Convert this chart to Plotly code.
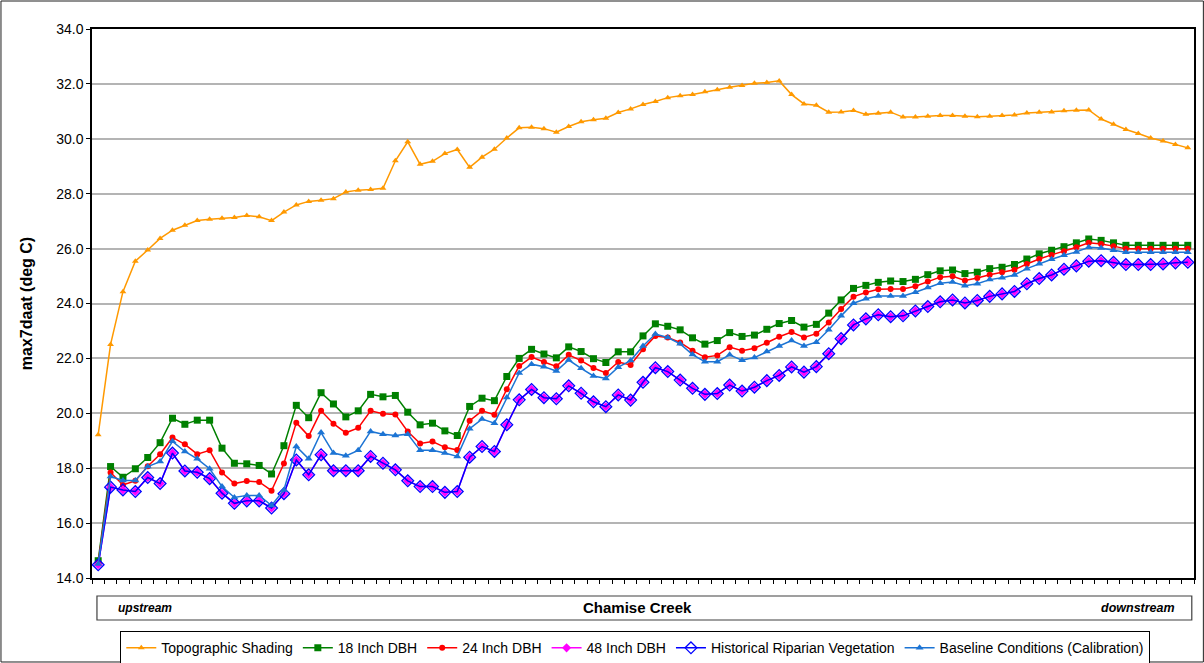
import plotly.graph_objects as go

# stations along Chamise Creek, upstream -> downstream
station = list(range(1, 90))

topo = [19.22, 22.51, 24.43, 25.54, 25.95, 26.37, 26.67, 26.85, 27.02, 27.07,
        27.11, 27.13, 27.21, 27.16, 27.02, 27.33, 27.59, 27.72, 27.76, 27.82,
        28.06, 28.13, 28.15, 28.20, 29.20, 29.89, 29.07, 29.18, 29.46, 29.61,
        28.96, 29.33, 29.62, 30.03, 30.40, 30.42, 30.37, 30.24, 30.45, 30.62,
        30.69, 30.75, 30.96, 31.09, 31.25, 31.36, 31.50, 31.57, 31.61, 31.71,
        31.79, 31.88, 31.94, 32.02, 32.05, 32.11, 31.61, 31.27, 31.22, 30.97,
        30.98, 31.03, 30.89, 30.93, 30.97, 30.79, 30.79, 30.82, 30.85, 30.85,
        30.82, 30.80, 30.82, 30.85, 30.87, 30.94, 30.97, 30.98, 31.02, 31.04,
        31.05, 30.72, 30.53, 30.34, 30.19, 30.03, 29.92, 29.79, 29.67]

dbh18 = [14.63, 18.06, 17.67, 17.98, 18.39, 18.93, 19.82, 19.60, 19.75, 19.75,
         18.73, 18.18, 18.16, 18.10, 17.79, 18.82, 20.29, 19.84, 20.75, 20.34,
         19.87, 20.09, 20.69, 20.60, 20.65, 20.04, 19.58, 19.64, 19.36, 19.19,
         20.25, 20.55, 20.46, 21.34, 22.00, 22.33, 22.16, 22.02, 22.42, 22.25,
         21.99, 21.85, 22.24, 22.24, 22.82, 23.26, 23.17, 23.04, 22.75, 22.52,
         22.65, 22.94, 22.80, 22.85, 23.06, 23.27, 23.38, 23.14, 23.24, 23.65,
         24.13, 24.55, 24.66, 24.77, 24.82, 24.80, 24.88, 25.05, 25.19, 25.22,
         25.09, 25.14, 25.27, 25.32, 25.42, 25.62, 25.81, 25.94, 26.07, 26.21,
         26.35, 26.30, 26.21, 26.12, 26.12, 26.12, 26.12, 26.12, 26.12]

dbh24 = [14.55, 17.84, 17.39, 17.54, 18.07, 18.51, 19.12, 18.87, 18.51, 18.65,
         17.84, 17.44, 17.53, 17.50, 17.18, 18.17, 19.66, 19.17, 20.09, 19.62,
         19.29, 19.47, 20.09, 19.98, 19.96, 19.34, 18.90, 18.97, 18.76, 18.66,
         19.73, 20.09, 19.95, 20.88, 21.72, 22.05, 21.87, 21.71, 22.13, 21.92,
         21.65, 21.47, 21.87, 21.76, 22.33, 22.82, 22.76, 22.58, 22.28, 22.04,
         22.11, 22.41, 22.28, 22.37, 22.57, 22.79, 22.96, 22.76, 22.90, 23.31,
         23.80, 24.25, 24.40, 24.52, 24.53, 24.53, 24.63, 24.80, 24.96, 24.99,
         24.84, 24.93, 25.05, 25.14, 25.23, 25.44, 25.62, 25.77, 25.90, 26.05,
         26.21, 26.17, 26.09, 25.99, 25.99, 25.99, 25.99, 25.99, 25.99]

historical = [14.48, 17.31, 17.21, 17.15, 17.66, 17.44, 18.55, 17.90, 17.85, 17.62,
              17.09, 16.72, 16.81, 16.81, 16.55, 17.07, 18.30, 17.76, 18.49, 17.91,
              17.91, 17.91, 18.43, 18.18, 17.94, 17.54, 17.33, 17.33, 17.12, 17.15,
              18.40, 18.79, 18.61, 19.58, 20.49, 20.87, 20.57, 20.53, 21.00, 20.73,
              20.42, 20.24, 20.67, 20.48, 21.13, 21.66, 21.52, 21.21, 20.91, 20.69,
              20.72, 21.03, 20.81, 20.95, 21.19, 21.38, 21.69, 21.50, 21.70, 22.17,
              22.72, 23.22, 23.44, 23.59, 23.52, 23.55, 23.73, 23.89, 24.06, 24.13,
              24.02, 24.11, 24.26, 24.35, 24.44, 24.72, 24.91, 25.04, 25.25, 25.37,
              25.54, 25.56, 25.50, 25.42, 25.42, 25.42, 25.44, 25.48, 25.50]

# 48 inch DBH run lies on top of historical vegetation
dbh48 = [14.48, 17.31, 17.21, 17.15, 17.66, 17.44, 18.55, 17.90, 17.85, 17.62,
         17.09, 16.72, 16.81, 16.81, 16.55, 17.07, 18.30, 17.76, 18.49, 17.91,
         17.91, 17.91, 18.43, 18.18, 17.94, 17.54, 17.33, 17.33, 17.12, 17.15,
         18.40, 18.79, 18.61, 19.58, 20.49, 20.87, 20.57, 20.53, 21.00, 20.73,
         20.42, 20.24, 20.67, 20.48, 21.13, 21.66, 21.52, 21.21, 20.91, 20.69,
         20.72, 21.03, 20.81, 20.95, 21.19, 21.38, 21.69, 21.50, 21.70, 22.17,
         22.72, 23.22, 23.44, 23.59, 23.52, 23.55, 23.73, 23.89, 24.06, 24.13,
         24.02, 24.11, 24.26, 24.35, 24.44, 24.72, 24.91, 25.04, 25.25, 25.37,
         25.54, 25.56, 25.50, 25.42, 25.42, 25.42, 25.44, 25.48, 25.50]

baseline = [14.51, 17.70, 17.55, 17.55, 18.06, 18.24, 18.98, 18.61, 18.34, 17.98,
            17.33, 16.93, 17.01, 17.01, 16.64, 17.21, 18.79, 18.34, 19.30, 18.55,
            18.45, 18.65, 19.34, 19.24, 19.19, 19.24, 18.65, 18.65, 18.55, 18.43,
            19.44, 19.79, 19.64, 20.58, 21.47, 21.79, 21.70, 21.54, 21.94, 21.64,
            21.36, 21.27, 21.68, 21.92, 22.45, 22.89, 22.76, 22.53, 22.14, 21.88,
            21.88, 22.13, 21.93, 22.03, 22.25, 22.45, 22.65, 22.45, 22.59, 23.04,
            23.55, 24.01, 24.17, 24.27, 24.27, 24.27, 24.41, 24.58, 24.74, 24.78,
            24.65, 24.72, 24.87, 24.94, 25.04, 25.27, 25.45, 25.61, 25.76, 25.88,
            26.05, 26.02, 25.94, 25.87, 25.87, 25.87, 25.87, 25.87, 25.87]

FONT = "Arial, Liberation Sans, sans-serif"

fig = go.Figure()

fig.add_trace(go.Scatter(x=station, y=topo, name="Topographic Shading", mode="lines+markers",
                         line=dict(color="#FF9900", width=1.5),
                         marker=dict(symbol="triangle-up", size=6, color="#FF9900")))
fig.add_trace(go.Scatter(x=station, y=dbh18, name="18 Inch DBH", mode="lines+markers",
                         line=dict(color="#008000", width=1.5),
                         marker=dict(symbol="square", size=7, color="#008000")))
fig.add_trace(go.Scatter(x=station, y=dbh24, name="24 Inch DBH", mode="lines+markers",
                         line=dict(color="#FF0000", width=1.5),
                         marker=dict(symbol="circle", size=6, color="#FF0000")))
fig.add_trace(go.Scatter(x=station, y=dbh48, name="48 Inch DBH", mode="lines+markers",
                         line=dict(color="#FF00FF", width=1.5),
                         marker=dict(symbol="diamond", size=7, color="#FF00FF")))
fig.add_trace(go.Scatter(x=station, y=historical, name="Historical Riparian Vegetation", mode="lines+markers",
                         line=dict(color="#0000FF", width=1.5),
                         marker=dict(symbol="diamond-open", size=9, color="#0000FF",
                                     line=dict(width=1.3))))
fig.add_trace(go.Scatter(x=station, y=baseline, name="Baseline Conditions (Calibration)", mode="lines+markers",
                         line=dict(color="#1C74D4", width=1.5),
                         marker=dict(symbol="triangle-up", size=7, color="#1C74D4")))

# x-axis title box
fig.add_shape(type="rect", xref="paper", yref="paper", x0=0.0045, x1=0.998, y0=-0.0765, y1=-0.0328,
              line=dict(color="#404040", width=1.2), fillcolor="white")
fig.add_annotation(text="<b><i>upstream</i></b>", xref="paper", yref="paper", x=0.022, y=-0.0546,
                   xanchor="left", yanchor="middle", showarrow=False, font=dict(family=FONT, size=12))
fig.add_annotation(text="<b>Chamise Creek</b>", xref="paper", yref="paper", x=0.495, y=-0.0546,
                   xanchor="center", yanchor="middle", showarrow=False, font=dict(family=FONT, size=15))
fig.add_annotation(text="<b><i>downstream</i></b>", xref="paper", yref="paper", x=0.985, y=-0.0546,
                   xanchor="right", yanchor="middle", showarrow=False, font=dict(family=FONT, size=12.5))

# outer chart border
fig.add_shape(type="rect", xref="paper", yref="paper", x0=-0.0826, x1=1.0085, y0=-0.1530, y1=1.0510,
              line=dict(color="#202020", width=1))

fig.update_layout(
    width=1204, height=663,
    margin=dict(l=92, r=10, t=29, b=85, autoexpand=False),
    paper_bgcolor="white", plot_bgcolor="white",
    font=dict(family=FONT, size=12, color="black"),
    showlegend=True,
    legend=dict(orientation="h", x=0.493, xanchor="center", y=-0.097, yanchor="top",
                bordercolor="black", borderwidth=1, bgcolor="white",
                font=dict(family=FONT, size=14), itemwidth=30, tracegroupgap=0),
    xaxis=dict(range=[0.5, 89.5], showgrid=False, zeroline=False, automargin=False,
               tickmode="linear", tick0=0.5, dtick=1, ticks="outside", ticklen=4,
               tickcolor="black", showticklabels=False,
               showline=True, linecolor="black", linewidth=1.5, mirror=True),
    yaxis=dict(range=[14, 34], tickmode="linear", tick0=14, dtick=2, tickformat=".1f",
               ticks="outside", ticklen=4, tickcolor="black", automargin=False,
               showgrid=True, gridcolor="#b4b4b4", gridwidth=1.5, zeroline=False,
               showline=True, linecolor="black", linewidth=1.5, mirror=True,
               tickfont=dict(family=FONT, size=14),
               title=dict(text="<b>max7daat (deg C)</b>", font=dict(family=FONT, size=16), standoff=20)),
)

# drop the default page margin so the figure sits at the window origin
fig.write_html("out.html", config={"displayModeBar": False},
               post_script="document.body.style.margin='0';")
